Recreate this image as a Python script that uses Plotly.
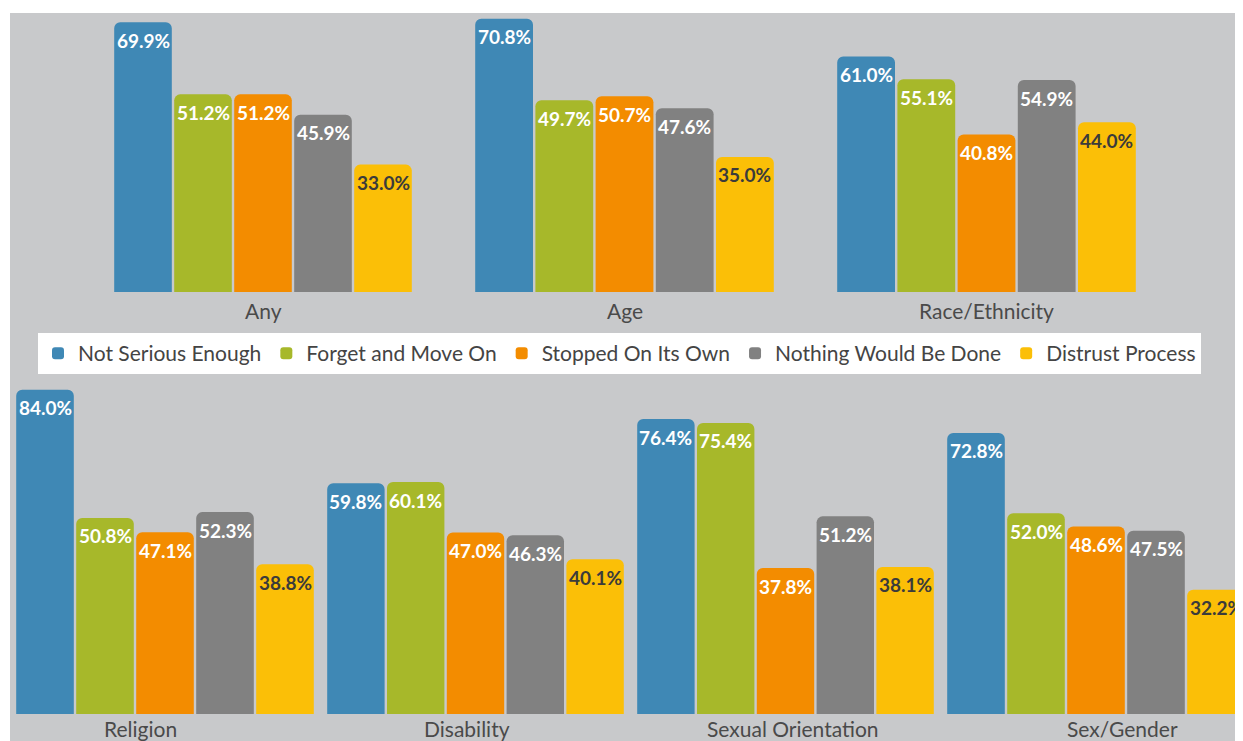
import plotly.graph_objects as go

# The page adds an 8px body margin; design coordinates below are in
# reference-picture pixels and are converted by subtracting OFF.
OFF = 8
W, H = 1243 - OFF, 741 - OFF

reasons = ["Not Serious Enough", "Forget and Move On", "Stopped On Its Own",
           "Nothing Would Be Done", "Distrust Process"]
groups = ["Any", "Age", "Race/Ethnicity", "Religion", "Disability",
          "Sexual Orientation", "Sex/Gender"]

any_vals = [69.9, 51.2, 51.2, 45.9, 33.0]
age_vals = [70.8, 49.7, 50.7, 47.6, 35.0]
race_vals = [61.0, 55.1, 40.8, 54.9, 44.0]
religion_vals = [84.0, 50.8, 47.1, 52.3, 38.8]
disability_vals = [59.8, 60.1, 47.0, 46.3, 40.1]
sexor_vals = [76.4, 75.4, 37.8, 51.2, 38.1]
sexgender_vals = [72.8, 52.0, 48.6, 47.5, 32.2]
values = [any_vals, age_vals, race_vals, religion_vals, disability_vals,
          sexor_vals, sexgender_vals]

colors = ["#3f88b5", "#a7b82a", "#f38c00", "#818181", "#fbbf07"]
label_colors = ["#ffffff", "#ffffff", "#ffffff", "#ffffff", "#3b3b3b"]


def px_x(x):
    return (x - OFF) / W


def px_y(y):
    return 1 - (y - OFF) / H


# layout geometry (reference pixels)
PX_PER_UNIT = 3.86
TOP_BASE, TOP_TOP = 292, 14
BOT_BASE, BOT_TOP = 714, 382
group_px = [(113, 413), (474, 775), (836, 1137),
            (15, 315), (326, 625), (636, 935), (946, 1246)]
label_px = [(263, 310), (625, 310), (986, 310),
            (140, 728), (467, 728), (793, 728), (1122, 728)]

fig = go.Figure()
annotations = []
layout_axes = {}

for gi, (gname, vals) in enumerate(zip(groups, values)):
    k = gi + 1
    xa = "x" if k == 1 else f"x{k}"
    ya = "y" if k == 1 else f"y{k}"
    for ri, (r, v) in enumerate(zip(reasons, vals)):
        fig.add_trace(go.Bar(
            x=[r], y=[v], name=r, legendgroup=r, showlegend=(gi == 0),
            marker=dict(color=colors[ri], cornerradius=6, line=dict(width=0)),
            xaxis=xa, yaxis=ya, hoverinfo="skip",
        ))
        annotations.append(dict(
            x=r, y=v, xref=xa, yref=ya, text=f"{v:.1f}%", showarrow=False,
            yanchor="middle", yshift=-18,
            font=dict(family="Lato", size=19, color=label_colors[ri], weight="bold"),
        ))
    L, R = group_px[gi]
    slot = (R - L) / 5
    right = min(R, 1243)
    xr_max = -0.5 + (right - L) / slot
    top_row = gi < 3
    base, top = (TOP_BASE, TOP_TOP) if top_row else (BOT_BASE, BOT_TOP)
    key_x = "xaxis" if k == 1 else f"xaxis{k}"
    key_y = "yaxis" if k == 1 else f"yaxis{k}"
    layout_axes[key_x] = dict(
        domain=[px_x(L), px_x(right)], range=[-0.5, xr_max], anchor=ya,
        showticklabels=False, showgrid=False, zeroline=False, showline=False,
        ticks="", fixedrange=True, categoryorder="array", categoryarray=reasons,
    )
    layout_axes[key_y] = dict(
        domain=[px_y(base), px_y(top)], range=[0, (base - top) / PX_PER_UNIT],
        anchor=xa, showticklabels=False, showgrid=False, zeroline=False,
        showline=False, ticks="", fixedrange=True,
    )
    cx, cy = label_px[gi]
    annotations.append(dict(
        x=px_x(cx), y=px_y(cy), xref="paper", yref="paper", text=gname,
        showarrow=False, xanchor="center", yanchor="middle",
        font=dict(family="Lato", size=21, color="#4a4a4a"),
    ))

shapes = [dict(type="rect", xref="paper", yref="paper", x0=px_x(10), x1=1,
               y0=0, y1=px_y(13), fillcolor="#c8c9cb", line=dict(width=0),
               layer="below")]

fig.update_layout(
    width=W, height=H, margin=dict(l=0, r=0, t=0, b=0),
    paper_bgcolor="white", plot_bgcolor="rgba(0,0,0,0)",
    barmode="group", bargap=0.04, bargroupgap=0,
    showlegend=True,
    legend=dict(orientation="h", x=px_x(38), y=px_y(333), xanchor="left",
                yanchor="top", bgcolor="white",
                font=dict(family="Lato", size=21, color="#444444"),
                itemclick=False, itemdoubleclick=False),
    annotations=annotations, shapes=shapes,
    **layout_axes,
)

fig.write_html("out.html")
